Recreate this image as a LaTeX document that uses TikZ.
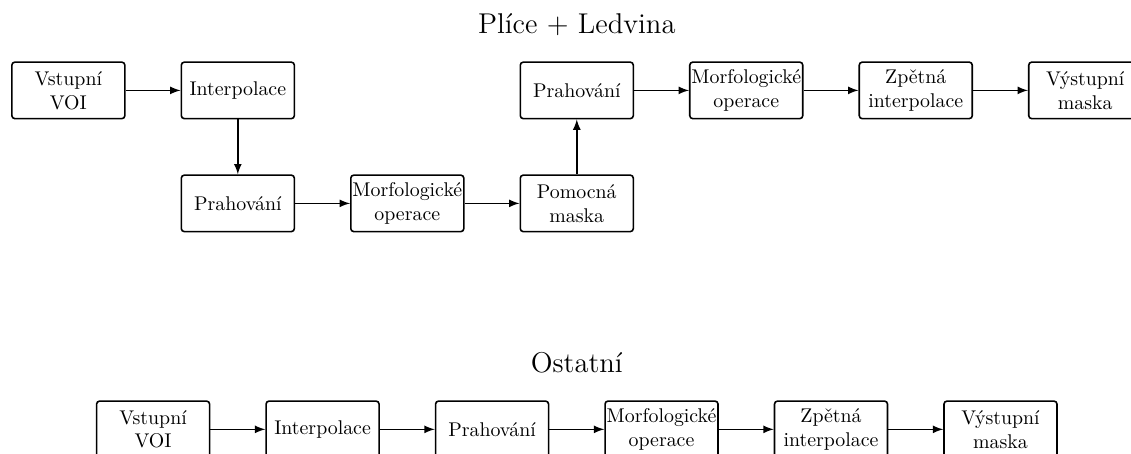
\documentclass[tikz,border=0pt]{standalone}
\usepackage{tikz}

\begin{document}
\begin{tikzpicture}
      [every node/.style={draw,thick,rounded corners=1.5pt,text width=2cm,inner sep=0pt,
        minimum height=1cm,align=center},
       title/.style={draw=none,text width=,anchor=base,font=\Large},
       >=latex]
      \useasboundingbox (-1.21,-6.42) rectangle (18.81,1.6);

      % Plice + Ledvina
      \node [title] (t1) at (9,1) {Plíce + Ledvina};
      \node (a1) at (0,0) {Vstupní\\VOI};
      \node (a2) at (3,0) {Interpolace};
      \node (b1) at (3,-2) {Prahování};
      \node (b2) at (6,-2) {Morfologické\\operace};
      \node (b3) at (9,-2) {Pomocná\\maska};
      \node (a3) at (9,0) {Prahování};
      \node (a4) at (12,0) {Morfologické\\operace};
      \node (a5) at (15,0) {Zpětná\\interpolace};
      \node (a6) at (18,0) {Výstupní\\maska};

      \foreach \from/\to in {a1/a2, a2/b1, b1/b2, b2/b3, b3/a3, a3/a4, a4/a5, a5/a6}
      \draw [thick,->] (\from) -- (\to);

      % Ostatni
      \node [title] (t2) at (9,-5) {Ostatní};
      \node (c1) at (1.5,-6) {Vstupní\\VOI};
      \node (c2) at (4.5,-6) {Interpolace};
      \node (c3) at (7.5,-6) {Prahování};
      \node (c4) at (10.5,-6) {Morfologické\\operace};
      \node (c5) at (13.5,-6) {Zpětná\\interpolace};
      \node (c6) at (16.5,-6) {Výstupní\\maska};

      \foreach \from/\to in {c1/c2, c2/c3, c3/c4, c4/c5, c5/c6}
      \draw [thick,->] (\from) -- (\to);
    \end{tikzpicture}
\end{document}
